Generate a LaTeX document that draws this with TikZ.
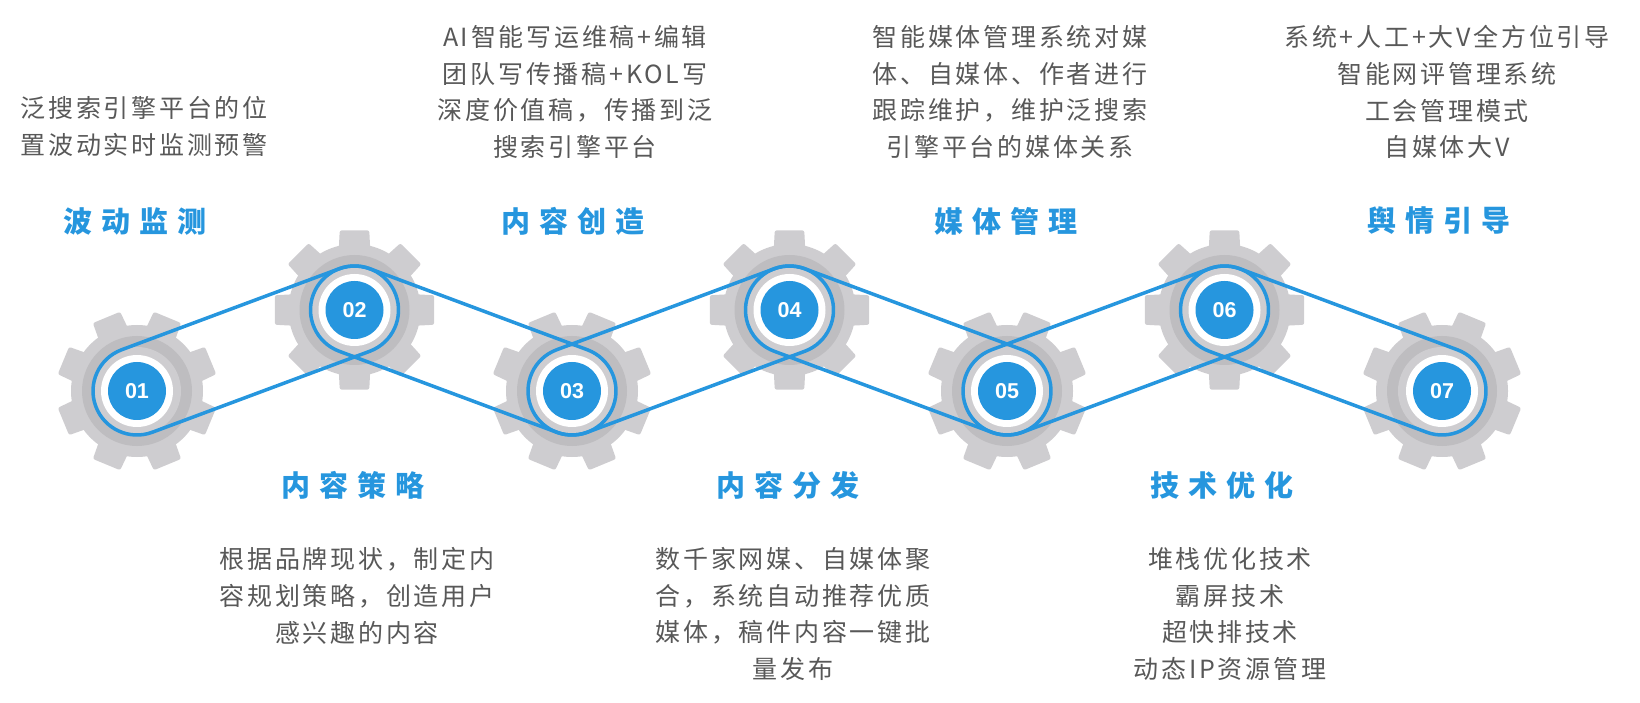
\documentclass[tikz,border=0pt]{standalone}
\usepackage{fontspec}
\setmainfont{Noto Sans CJK SC}
\newfontfamily\bodyfont{Noto Sans CJK SC}[LetterSpace=11]
\newfontfamily\headfont{Noto Sans CJK SC}[LetterSpace=31]
\newfontfamily\numfont{Liberation Sans}
\definecolor{gearlight}{RGB}{206,205,208}
\definecolor{geardark}{RGB}{190,189,192}
\definecolor{beltblue}{RGB}{38,150,222}
\definecolor{textgray}{RGB}{88,88,88}
\usetikzlibrary{calc}

\begin{document}
\begin{tikzpicture}[x=1pt, y=1pt,
  belt/.style={draw=beltblue, line width=3.5pt, line join=round},
  hub/.style={circle, fill=beltblue, minimum size=58pt, inner sep=0pt, text=white, font=\numfont\bfseries\fontsize{21.5}{24}\selectfont},
  head/.style={inner sep=0pt, text=beltblue, font=\headfont\bfseries\fontsize{29}{34}\selectfont},
  body/.style={inner sep=0pt, align=center, text=textgray, font=\bodyfont\fontsize{25}{36.8}\selectfont}]
\useasboundingbox (0,0) rectangle (1640,702);
% Gears
\foreach \i/\x/\y/\rot in {1/137/311/22.5, 2/354.5/392/0, 3/572/311/22.5, 4/789.5/392/0,
                           5/1007/311/22.5, 6/1224.5/392/0, 7/1442/311/22.5} {
  \coordinate (g\i) at (\x,\y);
  \fill[gearlight] (g\i) circle (66);
  \foreach \k in {0,...,7}
    \fill[gearlight, rounded corners=2pt] ($(g\i)+({\rot+45*\k-16}:58)$) -- ($(g\i)+({\rot+45*\k-10.5}:81)$)
      -- ($(g\i)+({\rot+45*\k+10.5}:81)$) -- ($(g\i)+({\rot+45*\k+16}:58)$) -- cycle;
  \fill[geardark] (g\i) circle (55);
  \fill[gearlight] (g\i) circle (44);
}
% Belts
\foreach \ga/\gb in {g1/g2, g2/g3, g3/g4, g4/g5, g5/g6, g6/g7}
  \draw[belt] let \p1=($(\gb)-(\ga)$), \n1={atan2(\y1,\x1)} in
    ($(\ga)+(\n1+90:44)$) arc[start angle=\n1+90, delta angle=180, radius=44]
    -- ($(\gb)+(\n1-90:44)$) arc[start angle=\n1-90, delta angle=180, radius=44] -- cycle;
% Hubs
\foreach \i in {1,...,7} {
  \fill[white] (g\i) circle (36);
  \node[hub] (n\i) at (g\i) {0\i};
}
% Top labels
\node[head] (h1) at (135,481) {波动监测};
\node[body] (b1) at (144,575.5) {泛搜索引擎平台的位\\置波动实时监测预警};
\node[head] (h3) at (573,481) {内容创造};
\node[body] (b3) at (575,610) {AI智能写运维稿+编辑\\团队写传播稿+KOL写\\深度价值稿，传播到泛\\搜索引擎平台};
\node[head] (h5) at (1006,481) {媒体管理};
\node[body] (b5) at (1010,610) {智能媒体管理系统对媒\\体、自媒体、作者进行\\跟踪维护，维护泛搜索\\引擎平台的媒体关系};
\node[head] (h7) at (1439,481) {舆情引导};
\node[body] (b7) at (1447,610) {系统+人工+大V全方位引导\\智能网评管理系统\\工会管理模式\\自媒体大V};
% Bottom labels
\node[head] (h2) at (353,217) {内容策略};
\node[body] (b2) at (357,106) {根据品牌现状，制定内\\容规划策略，创造用户\\感兴趣的内容};
\node[head] (h4) at (788,217) {内容分发};
\node[body] (b4) at (793,88) {数千家网媒、自媒体聚\\合，系统自动推荐优质\\媒体，稿件内容一键批\\量发布};
\node[head] (h6) at (1222,217) {技术优化};
\node[body] (b6) at (1230,88) {堆栈优化技术\\霸屏技术\\超快排技术\\动态IP资源管理};
\end{tikzpicture}
\end{document}
